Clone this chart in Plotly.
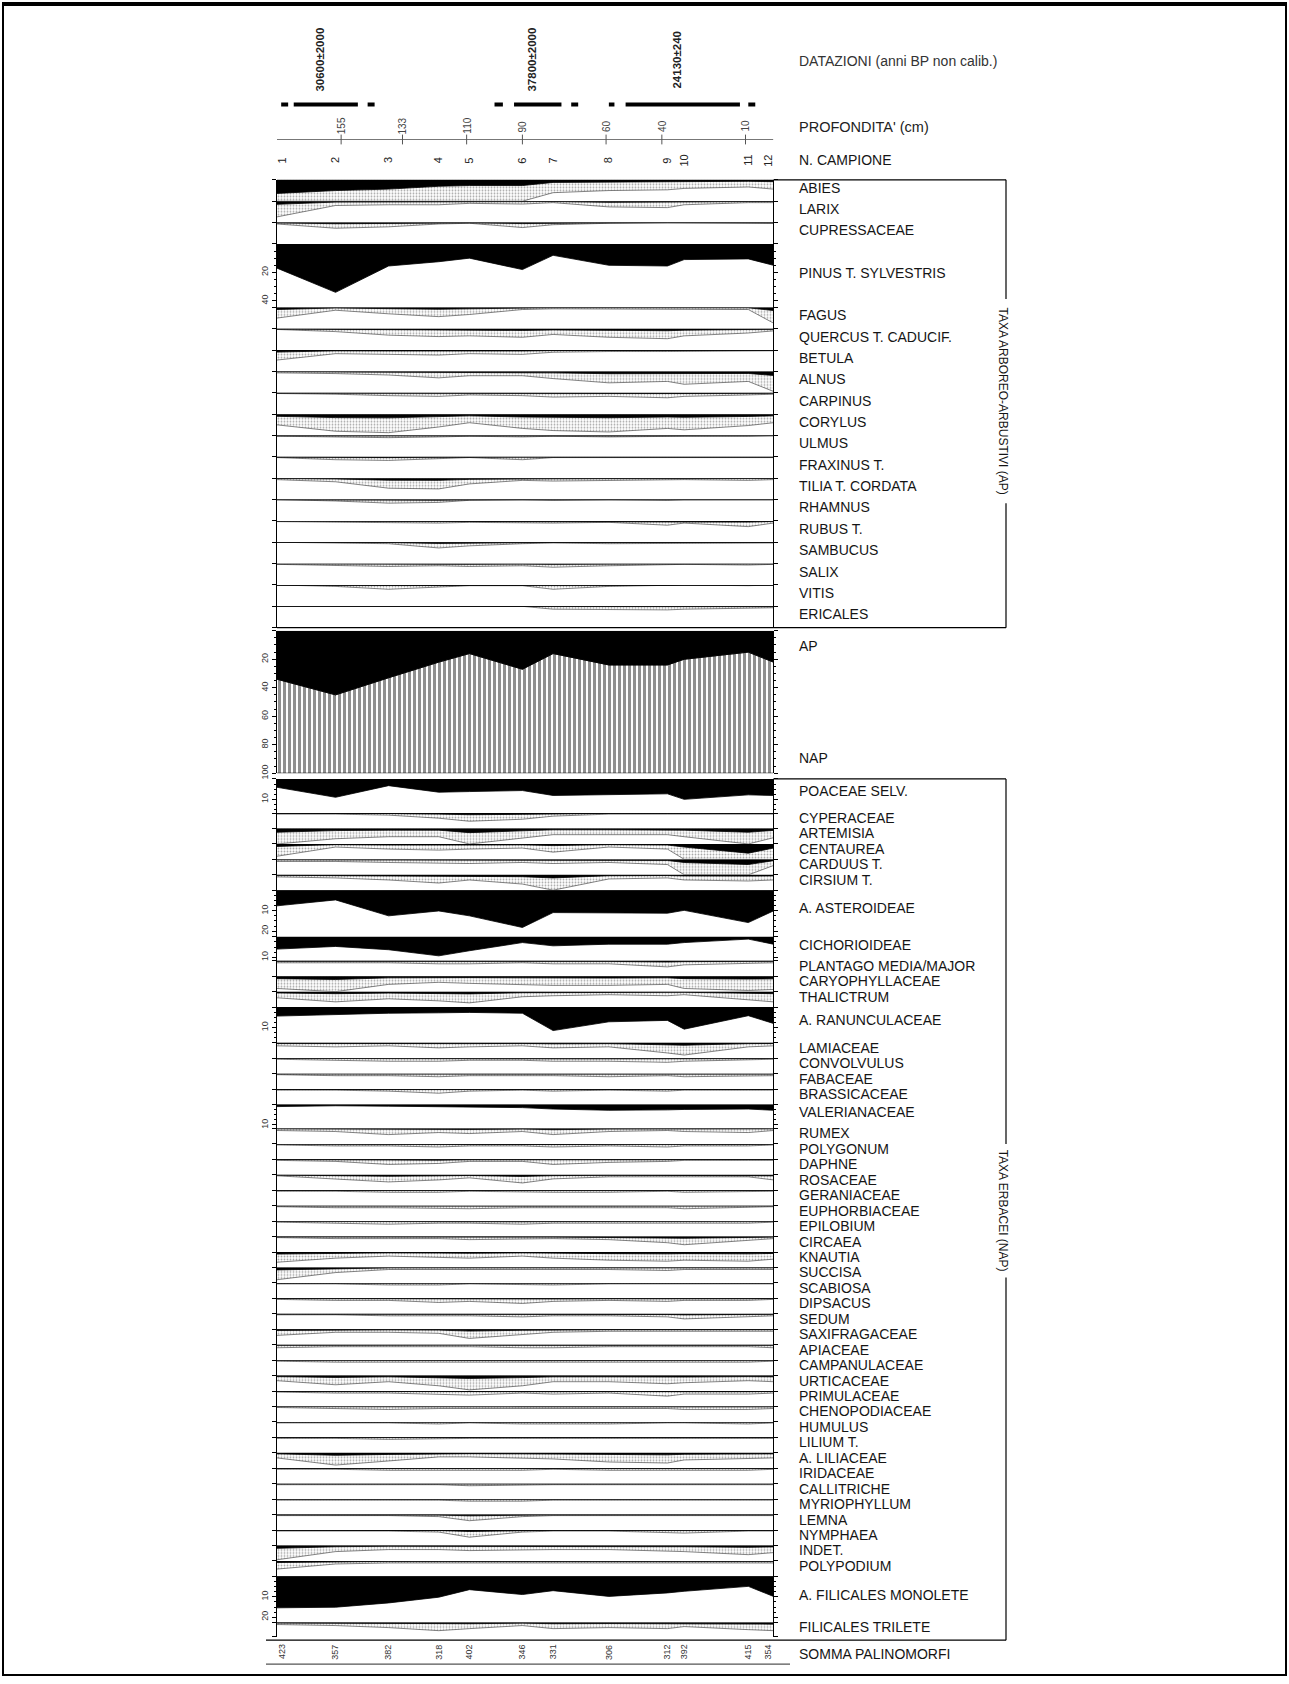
import plotly.graph_objects as go

W, H = 1289, 1684

# ---------------- data ----------------
SAMPLE_NO = ["1", "2", "3", "4", "5", "6", "7", "8", "9", "10", "11", "12"]
SAMPLE_DEPTH = [178, 157, 138, 120, 109, 90, 79, 59, 38, 32, 9, 0]
DEPTH_TICKS = [155, 133, 110, 90, 60, 40, 10]
DATING_TEXT = ["30600±2000", "37800±2000", "24130±240"]
DATING_FROM = [172, 93, 53]
DATING_TO = [149, 76, 12]
DASH_FROM = [176.5, 145.5, 100, 72.5, 59, 9]
DASH_TO = [174, 143, 97, 70, 57, 6.5]
SOMMA_PALINOMORFI = [423, 357, 382, 318, 402, 346, 331, 306, 312, 392, 415, 354]
EXAG = 5

# AP taxa (%)
ABIES = [9.5, 7.5, 6.5, 4.5, 4.0, 4.0, 1.8, 1.5, 1.4, 1.2, 1.0, 1.3]
LARIX = [2.2, 0.6, 0.5, 0.5, 0.3, 0.4, 0.2, 0.8, 0.9, 0.5, 0.2, 0.2]
CUPRESSACEAE = [0.2, 0.8, 0.6, 0.2, 0.1, 0.7, 0.3, 0.1, 0.0, 0.0, 0.0, 0.1]
PINUS = [17, 34, 15.5, 12.5, 10, 18, 8, 15, 15.5, 11, 10.5, 15]
FAGUS = [1.5, 0.4, 0.9, 1.3, 1.0, 0.3, 0.2, 0.2, 0.2, 0.2, 0.3, 2.2]
QUERCUS = [0.1, 0.4, 0.9, 1.1, 1.0, 1.2, 0.8, 1.2, 1.4, 1.0, 0.6, 0.3]
BETULA = [1.4, 0.5, 0.6, 0.7, 0.5, 0.6, 0.3, 0.2, 0.2, 0.2, 0.1, 0.1]
ALNUS = [0.2, 0.3, 0.5, 0.9, 0.6, 0.6, 1.0, 1.6, 1.4, 1.8, 1.4, 2.8]
CARPINUS = [0.1, 0.2, 0.4, 0.5, 0.3, 0.4, 0.6, 0.5, 0.7, 0.5, 0.3, 0.2]
CORYLUS = [1.5, 2.4, 2.6, 1.8, 1.2, 2.0, 2.3, 2.5, 2.0, 2.2, 1.6, 1.2]
ULMUS = [0.1, 0.2, 0.3, 0.2, 0.1, 0.2, 0.1, 0.2, 0.1, 0.1, 0.1, 0.0]
FRAXINUS = [0.1, 0.4, 0.5, 0.2, 0.1, 0.4, 0.1, 0.1, 0.1, 0.1, 0.1, 0.1]
TILIA = [0.2, 0.5, 1.4, 1.5, 0.8, 0.3, 0.4, 0.3, 0.3, 0.2, 0.3, 0.2]
RHAMNUS = [0.0, 0.2, 0.5, 0.4, 0.1, 0.0, 0.1, 0.0, 0.1, 0.0, 0.0, 0.0]
RUBUS = [0.1, 0.2, 0.2, 0.3, 0.2, 0.3, 0.3, 0.2, 0.6, 0.3, 0.8, 0.3]
SAMBUCUS = [0.0, 0.1, 0.2, 0.8, 0.5, 0.2, 0.1, 0.2, 0.2, 0.1, 0.1, 0.1]
SALIX = [0.1, 0.3, 0.4, 0.3, 0.4, 0.3, 0.5, 0.3, 0.2, 0.1, 0.2, 0.1]
VITIS = [0.0, 0.2, 0.6, 0.3, 0.1, 0.1, 0.6, 0.2, 0.1, 0.0, 0.1, 0.0]
ERICALES = [0.0, 0.0, 0.0, 0.0, 0.0, 0.0, 0.4, 0.5, 0.5, 0.4, 0.3, 0.2]

AP_TOTAL = [34, 45, 33, 22, 16, 27, 16, 24, 24, 20, 15, 22]

# NAP taxa (%)
POACEAE = [4.1, 9.0, 3.3, 6.5, 6.2, 5.7, 8.1, 7.6, 7.3, 10.0, 7.8, 8.1]
CYPERACEAE = [0.1, 0.1, 0.2, 0.5, 0.8, 0.6, 0.3, 0.1, 0.1, 0.1, 0.1, 0.1]
ARTEMISIA = [1.8, 1.0, 0.8, 0.8, 2.0, 0.9, 0.6, 0.6, 0.6, 0.8, 1.8, 0.9]
CENTAUREA = [1.2, 0.3, 0.5, 0.6, 0.5, 0.4, 0.8, 0.3, 0.5, 1.5, 4.5, 2.0]
CARDUUS = [0.2, 0.2, 0.3, 0.4, 0.4, 0.3, 0.4, 0.3, 0.5, 1.5, 2.5, 0.6]
CIRSIUM = [0.2, 0.3, 0.5, 0.8, 0.5, 0.9, 1.5, 0.4, 0.3, 0.5, 0.6, 0.5]
ASTEROIDEAE = [7.6, 4.7, 12.5, 10.1, 12.5, 18.2, 10.9, 11.2, 11.2, 9.8, 15.8, 10.1]
CICHORIOIDEAE = [6.0, 4.7, 6.3, 9.3, 6.8, 2.8, 4.4, 3.6, 3.6, 2.8, 1.1, 3.6]
PLANTAGO = [0.2, 0.2, 0.2, 0.3, 0.3, 0.2, 0.3, 0.3, 0.6, 0.4, 0.3, 0.2]
CARYOPHYLLACEAE = [1.2, 1.6, 0.8, 0.6, 0.7, 0.8, 0.9, 0.9, 0.8, 1.2, 1.4, 1.3]
THALICTRUM = [0.6, 1.0, 0.7, 0.9, 1.1, 0.5, 0.4, 0.3, 0.4, 0.3, 0.8, 1.0]
RANUNCULACEAE = [4.4, 3.5, 3.0, 2.8, 2.6, 3.0, 11.5, 7.2, 6.5, 10.8, 4.2, 8.0]
LAMIACEAE = [0.3, 0.4, 0.3, 0.5, 0.4, 0.3, 0.5, 0.4, 1.0, 1.2, 0.4, 0.3]
CONVOLVULUS = [0.1, 0.2, 0.3, 0.3, 0.2, 0.2, 0.3, 0.3, 0.4, 0.3, 0.2, 0.1]
FABACEAE = [0.1, 0.2, 0.2, 0.3, 0.2, 0.2, 0.2, 0.3, 0.2, 0.3, 0.2, 0.2]
BRASSICACEAE = [0.1, 0.1, 0.2, 0.4, 0.2, 0.1, 0.2, 0.1, 0.2, 0.1, 0.1, 0.1]
VALERIANACEAE = [1.0, 0.6, 0.8, 1.0, 1.2, 1.5, 2.2, 2.8, 2.6, 2.4, 2.2, 2.8]
RUMEX = [0.2, 0.3, 0.6, 0.4, 0.5, 0.3, 0.6, 0.3, 0.2, 0.3, 0.4, 0.2]
POLYGONUM = [0.1, 0.2, 0.2, 0.3, 0.2, 0.2, 0.3, 0.2, 0.3, 0.2, 0.2, 0.1]
DAPHNE = [0.1, 0.2, 0.5, 0.4, 0.2, 0.2, 0.5, 0.3, 0.2, 0.1, 0.1, 0.1]
ROSACEAE = [0.1, 0.4, 0.7, 0.5, 0.3, 0.8, 0.4, 0.2, 0.2, 0.2, 0.2, 0.5]
GERANIACEAE = [0.1, 0.1, 0.2, 0.2, 0.1, 0.2, 0.2, 0.2, 0.1, 0.2, 0.1, 0.1]
EUPHORBIACEAE = [0.1, 0.2, 0.2, 0.3, 0.3, 0.2, 0.2, 0.2, 0.2, 0.3, 0.2, 0.1]
EPILOBIUM = [0.1, 0.2, 0.3, 0.2, 0.2, 0.3, 0.2, 0.2, 0.2, 0.2, 0.2, 0.1]
CIRCAEA = [0.1, 0.2, 0.2, 0.2, 0.3, 0.2, 0.2, 0.3, 0.6, 0.8, 0.4, 0.2]
KNAUTIA = [1.0, 0.6, 0.4, 0.5, 0.6, 0.4, 0.6, 0.8, 0.9, 0.8, 0.9, 0.7]
SUCCISA = [1.2, 0.5, 0.2, 0.2, 0.2, 0.2, 0.2, 0.2, 0.3, 0.2, 0.2, 0.2]
SCABIOSA = [0.1, 0.1, 0.2, 0.2, 0.1, 0.2, 0.2, 0.1, 0.1, 0.1, 0.1, 0.1]
DIPSACUS = [0.1, 0.2, 0.2, 0.4, 0.3, 0.5, 0.3, 0.2, 0.3, 0.2, 0.2, 0.1]
SEDUM = [0.1, 0.1, 0.2, 0.2, 0.2, 0.3, 0.2, 0.2, 0.3, 0.5, 0.3, 0.2]
SAXIFRAGACEAE = [0.6, 0.3, 0.3, 0.4, 0.9, 0.5, 0.3, 0.2, 0.2, 0.2, 0.2, 0.2]
APIACEAE = [0.3, 0.2, 0.2, 0.2, 0.2, 0.3, 0.3, 0.2, 0.2, 0.2, 0.2, 0.3]
CAMPANULACEAE = [0.1, 0.2, 0.2, 0.2, 0.2, 0.2, 0.2, 0.2, 0.2, 0.2, 0.2, 0.1]
URTICACEAE = [0.5, 0.9, 0.6, 1.0, 1.4, 1.0, 0.6, 0.6, 0.8, 0.7, 0.5, 0.6]
PRIMULACEAE = [0.1, 0.2, 0.2, 0.3, 0.4, 0.2, 0.3, 0.2, 0.5, 0.3, 0.3, 0.2]
CHENOPODIACEAE = [0.1, 0.2, 0.3, 0.2, 0.2, 0.2, 0.2, 0.2, 0.2, 0.3, 0.3, 0.2]
HUMULUS = [0.1, 0.1, 0.1, 0.2, 0.1, 0.2, 0.2, 0.2, 0.1, 0.1, 0.2, 0.1]
LILIUM = [0.1, 0.1, 0.2, 0.1, 0.1, 0.1, 0.1, 0.1, 0.1, 0.1, 0.1, 0.1]
LILIACEAE = [0.5, 1.2, 0.8, 0.4, 0.4, 0.5, 0.6, 0.9, 1.0, 0.7, 0.6, 0.5]
IRIDACEAE = [0.1, 0.1, 0.2, 0.2, 0.2, 0.2, 0.1, 0.2, 0.2, 0.2, 0.2, 0.1]
CALLITRICHE = [0.1, 0.1, 0.1, 0.1, 0.2, 0.1, 0.1, 0.1, 0.1, 0.1, 0.1, 0.1]
MYRIOPHYLLUM = [0.1, 0.1, 0.1, 0.1, 0.2, 0.2, 0.1, 0.1, 0.1, 0.1, 0.1, 0.1]
LEMNA = [0.1, 0.1, 0.1, 0.2, 0.6, 0.2, 0.1, 0.1, 0.1, 0.1, 0.1, 0.1]
NYMPHAEA = [0.1, 0.1, 0.1, 0.2, 0.7, 0.2, 0.1, 0.1, 0.2, 0.3, 0.1, 0.1]
INDET = [1.4, 0.6, 0.4, 0.4, 0.5, 0.4, 0.4, 0.4, 0.5, 0.6, 0.9, 0.7]
POLYPODIUM = [0.8, 0.3, 0.2, 0.2, 0.2, 0.2, 0.2, 0.2, 0.2, 0.2, 0.2, 0.2]
FILICALES_MONOLETE = [15.4, 15.1, 13.0, 10.2, 6.5, 8.9, 7.0, 9.8, 8.1, 7.3, 4.9, 9.8]
FILICALES_TRILETE = [0.2, 0.3, 0.5, 0.8, 0.6, 0.3, 0.6, 0.5, 0.6, 0.4, 0.7, 0.8]

AP_ROWS = [
    ("ABIES", ABIES, "s"), ("LARIX", LARIX, "s"), ("CUPRESSACEAE", CUPRESSACEAE, "s"),
    ("PINUS T. SYLVESTRIS", PINUS, "pinus"),
    ("FAGUS", FAGUS, "s"), ("QUERCUS T. CADUCIF.", QUERCUS, "s"), ("BETULA", BETULA, "s"),
    ("ALNUS", ALNUS, "s"), ("CARPINUS", CARPINUS, "s"), ("CORYLUS", CORYLUS, "s"),
    ("ULMUS", ULMUS, "s"), ("FRAXINUS T.", FRAXINUS, "s"), ("TILIA T. CORDATA", TILIA, "s"),
    ("RHAMNUS", RHAMNUS, "s"), ("RUBUS T.", RUBUS, "s"), ("SAMBUCUS", SAMBUCUS, "s"),
    ("SALIX", SALIX, "s"), ("VITIS", VITIS, "s"), ("ERICALES", ERICALES, "s"),
]
NAP_ROWS = [
    ("POACEAE SELV.", POACEAE, "b34"),
    ("CYPERACEAE", CYPERACEAE, "s"), ("ARTEMISIA", ARTEMISIA, "s"),
    ("CENTAUREA", CENTAUREA, "s"), ("CARDUUS T.", CARDUUS, "s"), ("CIRSIUM T.", CIRSIUM, "s"),
    ("A. ASTEROIDEAE", ASTEROIDEAE, "b47"),
    ("CICHORIOIDEAE", CICHORIOIDEAE, "b24"),
    ("PLANTAGO MEDIA/MAJOR", PLANTAGO, "s"), ("CARYOPHYLLACEAE", CARYOPHYLLACEAE, "s"),
    ("THALICTRUM", THALICTRUM, "s"),
    ("A. RANUNCULACEAE", RANUNCULACEAE, "b36"),
    ("LAMIACEAE", LAMIACEAE, "s"), ("CONVOLVULUS", CONVOLVULUS, "s"),
    ("FABACEAE", FABACEAE, "s"), ("BRASSICACEAE", BRASSICACEAE, "s"),
    ("VALERIANACEAE", VALERIANACEAE, "b24"),
    ("RUMEX", RUMEX, "s"), ("POLYGONUM", POLYGONUM, "s"), ("DAPHNE", DAPHNE, "s"),
    ("ROSACEAE", ROSACEAE, "s"), ("GERANIACEAE", GERANIACEAE, "s"),
    ("EUPHORBIACEAE", EUPHORBIACEAE, "s"), ("EPILOBIUM", EPILOBIUM, "s"),
    ("CIRCAEA", CIRCAEA, "s"), ("KNAUTIA", KNAUTIA, "s"), ("SUCCISA", SUCCISA, "s"),
    ("SCABIOSA", SCABIOSA, "s"), ("DIPSACUS", DIPSACUS, "s"), ("SEDUM", SEDUM, "s"),
    ("SAXIFRAGACEAE", SAXIFRAGACEAE, "s"), ("APIACEAE", APIACEAE, "s"),
    ("CAMPANULACEAE", CAMPANULACEAE, "s"), ("URTICACEAE", URTICACEAE, "s"),
    ("PRIMULACEAE", PRIMULACEAE, "s"), ("CHENOPODIACEAE", CHENOPODIACEAE, "s"),
    ("HUMULUS", HUMULUS, "s"), ("LILIUM T.", LILIUM, "s"), ("A. LILIACEAE", LILIACEAE, "s"),
    ("IRIDACEAE", IRIDACEAE, "s"), ("CALLITRICHE", CALLITRICHE, "s"),
    ("MYRIOPHYLLUM", MYRIOPHYLLUM, "s"), ("LEMNA", LEMNA, "s"), ("NYMPHAEA", NYMPHAEA, "s"),
    ("INDET.", INDET, "s"), ("POLYPODIUM", POLYPODIUM, "s"),
    ("A. FILICALES MONOLETE", FILICALES_MONOLETE, "b46"),
    ("FILICALES TRILETE", FILICALES_TRILETE, "s14"),
]

# ---------------- layout helpers ----------------
FONT = "Liberation Sans"
LABEL_SIZE = 14
X_LEFT, X_RIGHT = 277.0, 773.4
LABEL_X = 797.0
BRACKET_X = 1006.0
K_AP = 1.43   # px per %
K_NAP = 2.05

fig = go.Figure()
layout = {}
shapes = []
annotations = []
axis_n = [0]


def px(x):
    return x / W


def py(y):
    return 1 - y / H


def new_yaxis(top, h, rng, **kw):
    axis_n[0] += 1
    n = axis_n[0]
    key = "yaxis" if n == 1 else "yaxis%d" % n
    ref = "y" if n == 1 else "y%d" % n
    ax = dict(domain=[py(top + h), py(top)], range=rng, anchor="x",
              showgrid=False, zeroline=False, fixedrange=True)
    ax.update(kw)
    layout[key] = ax
    return ref


def line_shape(x0, y0, x1, y1, w=1.0, color="black"):
    shapes.append(dict(type="line", xref="paper", yref="paper",
                       x0=px(x0), x1=px(x1), y0=py(y0), y1=py(y1),
                       line=dict(color=color, width=w)))


def text_ann(x, y, text, size=LABEL_SIZE, angle=0, xanchor="left", color="#151515"):
    annotations.append(dict(x=px(x), y=py(y), xref="paper", yref="paper",
                            text=text, showarrow=False, textangle=angle,
                            xanchor=xanchor, yanchor="middle",
                            font=dict(family=FONT, size=size, color=color)))


AX_STYLE = dict(showline=True, linecolor="black", linewidth=1, mirror="ticks",
                ticks="outside", ticklen=4, tickcolor="black", tickwidth=1,
                tickangle=-90, tickfont=dict(family=FONT, size=9, color="#333"))


def add_panel(name, vals, top, h, k, exag, tickvals=None, ticklabels=None,
              minor_dtick=None, lab_frac=0.37):
    ymax = h / k
    kw = dict(AX_STYLE)
    if tickvals is None:
        kw.update(tickvals=[0, ymax], showticklabels=False)
    else:
        kw.update(tickvals=[0] + tickvals, ticktext=[""] + ticklabels)
    if minor_dtick:
        kw["minor"] = dict(ticks="outside", ticklen=2, tickcolor="black",
                           tickmode="linear", tick0=0, dtick=minor_dtick)
    ref = new_yaxis(top, h, [ymax, 0], **kw)
    base = dict(x=SAMPLE_DEPTH, xaxis="x", yaxis=ref, mode="lines",
                hoverinfo="skip", showlegend=False)
    if exag:
        ex = [min(v * EXAG, ymax) for v in vals]
        fig.add_trace(go.Scatter(y=[0] * len(vals), line=dict(width=0), **base))
        fig.add_trace(go.Scatter(y=ex, line=dict(color="#333", width=0.6), fill="tonexty",
                                 fillcolor="white",
                                 fillpattern=dict(shape=".", fgcolor="#555", bgcolor="white",
                                                  size=3, solidity=0.3), **base))
    fig.add_trace(go.Scatter(y=[0] * len(vals), line=dict(width=0), **base))
    fig.add_trace(go.Scatter(y=vals, line=dict(color="black", width=0.8), fill="tonexty",
                             fillcolor="black", **base))
    shapes.append(dict(type="line", xref="x", yref=ref, x0=SAMPLE_DEPTH[0], x1=SAMPLE_DEPTH[-1],
                       y0=0, y1=0, line=dict(color="black", width=1.3)))
    text_ann(LABEL_X, top + lab_frac * h, name)
    return ref


# ---------------- AP group ----------------
H_AP = 21.43
y = 180.5
AP_TOP = y
for name, vals, kind in AP_ROWS:
    if kind == "pinus":
        hh = 63.7
        add_panel(name, vals, y, hh, K_AP, False, [20, 40], ["20", "40"], minor_dtick=5, lab_frac=0.46)
    else:
        hh = H_AP
        add_panel(name, vals, y, hh, K_AP, True)
    y += hh
AP_BOTTOM = y
line_shape(X_LEFT, AP_BOTTOM, X_RIGHT, AP_BOTTOM, 1.2)

# ---------------- AP / NAP panel ----------------
P_TOP, P_H = 633.0, 143.0
kw = dict(AX_STYLE)
kw.update(tickvals=[0, 20, 40, 60, 80, 100], ticktext=["", "20", "40", "60", "80", "100"],
          minor=dict(ticks="outside", ticklen=2, tickcolor="black", tickmode="linear", tick0=0, dtick=5))
ref = new_yaxis(P_TOP, P_H, [100, 0], **kw)
base = dict(x=SAMPLE_DEPTH, xaxis="x", yaxis=ref, mode="lines", hoverinfo="skip", showlegend=False)
fig.add_trace(go.Scatter(y=[100] * 12, line=dict(width=0), **base))
fig.add_trace(go.Scatter(y=AP_TOTAL, line=dict(color="black", width=0.8), fill="tonexty",
                         fillcolor="white",
                         fillpattern=dict(shape="|", fgcolor="#222", bgcolor="white", size=5, solidity=0.6),
                         **base))
fig.add_trace(go.Scatter(y=[0] * 12, line=dict(width=0), **base))
fig.add_trace(go.Scatter(y=AP_TOTAL, line=dict(color="black", width=0.8), fill="tonexty",
                         fillcolor="black", **base))
shapes.append(dict(type="line", xref="x", yref=ref, x0=SAMPLE_DEPTH[0], x1=SAMPLE_DEPTH[-1],
                   y0=100, y1=100, line=dict(color="black", width=1)))
text_ann(LABEL_X, 648, "AP")
text_ann(LABEL_X, 761, "NAP")

# ---------------- NAP group ----------------
H_NAP = 15.5
BIG = {"b34": (34.3, [10], ["10"], 2.5, 0.36), "b47": (46.7, [10, 20], ["10", "20"], 2.5, 0.38),
       "b24": (24.0, [10], ["10"], 2.5, 0.33), "b36": (35.8, [10], ["10"], 2.5, 0.37),
       "b46": (46.3, [10, 20], ["10", "20"], 2.5, 0.41)}
y = 781.7
NAP_TOP = y
for name, vals, kind in NAP_ROWS:
    if kind in BIG:
        hh, tv, tl, md, lf = BIG[kind]
        add_panel(name, vals, y, hh, K_NAP, False, tv, tl, minor_dtick=md, lab_frac=lf)
    else:
        hh = 14.5 if kind == "s14" else H_NAP
        add_panel(name, vals, y, hh, K_NAP, True, lab_frac=0.32)
    y += hh
NAP_BOTTOM = y

# ---------------- header ----------------
ref = new_yaxis(100, 10, [0, 1], visible=False)
for a, b in zip(DATING_FROM, DATING_TO):
    fig.add_trace(go.Scatter(x=[a, b], y=[0.5, 0.5], xaxis="x", yaxis=ref, mode="lines",
                             line=dict(color="black", width=4), hoverinfo="skip", showlegend=False))
for a, b in zip(DASH_FROM, DASH_TO):
    fig.add_trace(go.Scatter(x=[a, b], y=[0.5, 0.5], xaxis="x", yaxis=ref, mode="lines",
                             line=dict(color="black", width=4), hoverinfo="skip", showlegend=False))
for t, a, b in zip(DATING_TEXT, DATING_FROM, DATING_TO):
    annotations.append(dict(x=(a + b) / 2, xref="x", y=py(60), yref="paper", text="<b>%s</b>" % t,
                            showarrow=False, textangle=-90, xanchor="center", yanchor="middle",
                            xshift=-6, font=dict(family=FONT, size=11.5, color="#222")))

# depth axis
ref = new_yaxis(134, 12, [1, -1], visible=False)
fig.add_trace(go.Scatter(x=[SAMPLE_DEPTH[0], SAMPLE_DEPTH[-1]], y=[0, 0], xaxis="x", yaxis=ref,
                         mode="lines", line=dict(color="#777", width=1.2),
                         hoverinfo="skip", showlegend=False))
fig.add_trace(go.Scatter(x=DEPTH_TICKS, y=[0] * len(DEPTH_TICKS), xaxis="x", yaxis=ref,
                         mode="markers", marker=dict(symbol="line-ns", size=7,
                                                     line=dict(color="#555", width=1)),
                         hoverinfo="skip", showlegend=False))
for d in DEPTH_TICKS:
    annotations.append(dict(x=d, xref="x", y=py(126.5), yref="paper", text=str(d),
                            showarrow=False, textangle=-90, xanchor="center", yanchor="middle",
                            font=dict(family=FONT, size=10, color="#444")))


def edge_shift(d):
    return 5 if d == SAMPLE_DEPTH[0] else (-5 if d == SAMPLE_DEPTH[-1] else 0)


for s, d in zip(SAMPLE_NO, SAMPLE_DEPTH):
    annotations.append(dict(x=d, xref="x", y=py(161), yref="paper", text=s,
                            showarrow=False, textangle=-90, xanchor="center", yanchor="middle",
                            xshift=edge_shift(d), font=dict(family=FONT, size=11, color="#222")))

for v, d in zip(SOMMA_PALINOMORFI, SAMPLE_DEPTH):
    annotations.append(dict(x=d, xref="x", y=py(1658), yref="paper", text=str(v),
                            showarrow=False, textangle=-90, xanchor="center", yanchor="middle",
                            xshift=edge_shift(d), font=dict(family=FONT, size=9, color="#333")))

text_ann(LABEL_X, 61, "DATAZIONI (anni BP non calib.)", size=14, color="#333")
text_ann(LABEL_X, 127, "PROFONDITA' (cm)", size=14.5, color="#222")
text_ann(LABEL_X, 161, "N. CAMPIONE", size=14)
text_ann(LABEL_X, 1660, "SOMMA PALINOMORFI", size=14)

# brackets
line_shape(X_RIGHT, AP_TOP, BRACKET_X, AP_TOP, 1.2)
line_shape(BRACKET_X, AP_TOP, BRACKET_X, 300, 1.2)
line_shape(BRACKET_X, 505, BRACKET_X, AP_BOTTOM, 1.2)
line_shape(X_RIGHT, AP_BOTTOM, BRACKET_X, AP_BOTTOM, 1.2)
text_ann(BRACKET_X - 3, 402, "TAXA ARBOREO-ARBUSTIVI (AP)", size=12, angle=90, xanchor="center")

NAP_END = 1646
line_shape(X_RIGHT, NAP_TOP, BRACKET_X, NAP_TOP, 1.2)
line_shape(BRACKET_X, NAP_TOP, BRACKET_X, 1148, 1.2)
line_shape(BRACKET_X, 1282, BRACKET_X, NAP_END, 1.2)
line_shape(266, NAP_END, BRACKET_X, NAP_END, 1.2)
text_ann(BRACKET_X - 3, 1215, "TAXA ERBACEI (NAP)", size=12, angle=90, xanchor="center")
line_shape(266, 1670, 790, 1670, 1.2, "#555")

# outer frame
shapes.append(dict(type="rect", xref="paper", yref="paper", x0=px(3), x1=px(1286),
                   y0=py(1681), y1=py(3), line=dict(color="black", width=2)))
line_shape(3, 4.5, 1286, 4.5, 3)

layout["xaxis"] = dict(domain=[px(X_LEFT), px(X_RIGHT)], range=[SAMPLE_DEPTH[0], SAMPLE_DEPTH[-1]],
                       visible=False, fixedrange=True)
fig.update_layout(**layout)
fig.update_layout(width=W, height=H, margin=dict(l=0, r=0, t=0, b=0),
                  paper_bgcolor="white", plot_bgcolor="rgba(0,0,0,0)", showlegend=False,
                  shapes=shapes, annotations=annotations,
                  font=dict(family=FONT))
fig.write_html("out.html", config={"displayModeBar": False},
               post_script="document.body.style.margin='0px';document.body.style.overflow='hidden';")
